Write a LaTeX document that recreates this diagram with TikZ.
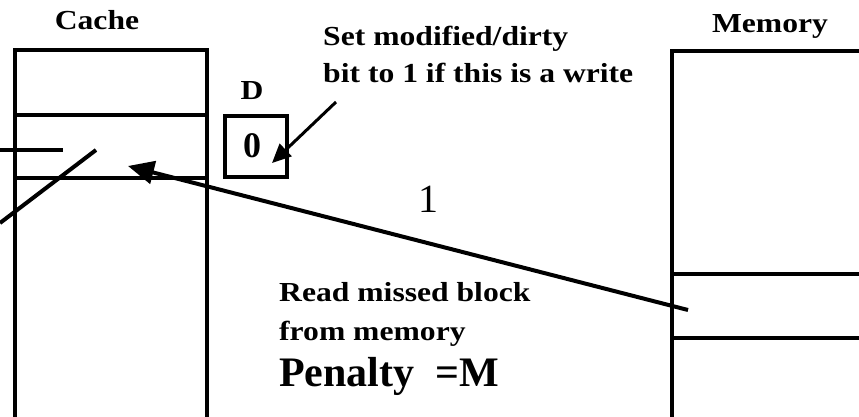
\documentclass[tikz,border=0pt]{standalone}
\usepackage{fontspec}
\setmainfont{Liberation Serif}
\newfontfamily\lblfont[FakeStretch=1.15]{Liberation Serif}
\usetikzlibrary{arrows.meta,positioning}

\begin{document}
\begin{tikzpicture}[
  x=1pt, y=1pt,
  lbl/.style={font=\lblfont\bfseries\fontsize{27.5}{33}\selectfont, inner sep=0pt},
  blk/.style={line width=3.4pt},
  arr/.style={-{Triangle[length=26pt,width=23pt]}, line width=4pt},
  thinarr/.style={-{Triangle[length=19pt,width=17pt]}, line width=3pt}
]
\useasboundingbox (0,0) rectangle (859,417);

% cache
\draw[blk] (15,0) -- (15,367) -- (207,367) -- (207,0);
\draw[blk] (15,302) -- (207,302);
\draw[blk] (15,239) -- (207,239);
\node[lbl, anchor=base] (cachelbl) at (97,387) {Cache};

% lines coming in from the left
\coordinate (tagA) at (0,267);
\coordinate (tagB) at (63,267);
\coordinate (idxA) at (0,194);
\coordinate (idxB) at (96,267);
\draw[line width=4pt] (tagA) -- (tagB);
\draw[line width=4pt] (idxA) -- (idxB);

% dirty bit
\node[lbl, anchor=base] (dlbl) at (252,317) {D};
\node[draw, line width=3.6pt, minimum width=62pt, minimum height=61pt, inner sep=0pt] (dbit) at (256,270.5) {};
\node[anchor=base, inner sep=0pt, font=\bfseries\fontsize{36}{40}\selectfont] (zero) at (252,259) {0};
\node[lbl, anchor=base west] (note1) at (323,371) {Set modified/dirty};
\node[lbl, anchor=base west] (note2) at (323,334) {bit to 1 if this is a write};
\coordinate (notept) at (336,315);
\coordinate (dtip) at (272,254);
\draw[thinarr] (notept) -- (dtip);

% memory
\draw[blk] (672,0) -- (672,366) -- (859,366);
\draw[blk] (672,143) -- (859,143);
\draw[blk] (672,79) -- (859,79);
\node[lbl, anchor=base] (memlbl) at (770,384) {Memory};

% block transfer
\coordinate (memblk) at (688,107);
\coordinate (cacheblk) at (128,251);
\draw[arr] (memblk) -- (cacheblk);
\node[anchor=base, inner sep=0pt, font=\fontsize{40}{48}\selectfont] (one) at (428,204) {1};
\node[lbl, anchor=base west] (read1) at (279,115) {Read missed block};
\node[lbl, anchor=base west] (read2) at (279,76) {from memory};
\node[anchor=base west, inner sep=0pt, font=\bfseries\fontsize{42}{50}\selectfont] (pen) at (279,30) {Penalty\ \ =M};
\end{tikzpicture}
\end{document}
